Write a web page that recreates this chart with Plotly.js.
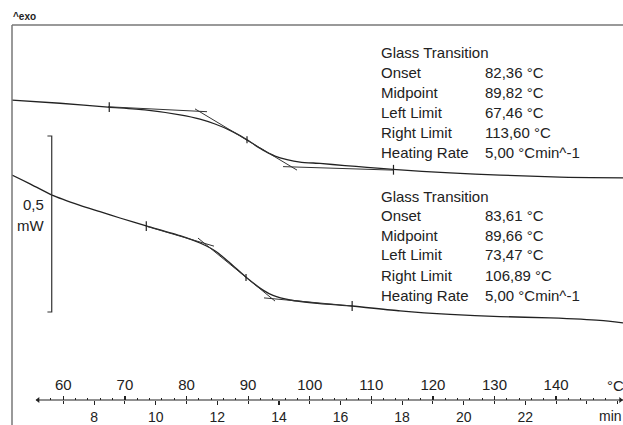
<!DOCTYPE html>
<html>
<head>
<meta charset="utf-8">
<script src="https://cdn.plot.ly/plotly-3.0.1.min.js"></script>
<style>
  html, body { margin: 0; padding: 0; background: #fff; }
  #chart { width: 623px; height: 425px; }
</style>
</head>
<body>
<div id="chart"></div>
<script>
// ---------------- data ----------------
// Curve A (upper run): temperature (°C) and heat flow (mW, relative)
const tempA = [51.67, 59.46, 67.26, 73.26, 78.94, 82.19, 84.63, 87.06, 88.69, 89.82, 91.12, 92.74, 94.37, 96.31, 98.43, 101.67, 105.73, 109.30, 113.52, 122.78, 130.89, 140.63, 150.86];
const heatA = [0.568, 0.559, 0.548, 0.540, 0.526, 0.514, 0.500, 0.482, 0.467, 0.455, 0.440, 0.423, 0.409, 0.399, 0.392, 0.388, 0.382, 0.377, 0.371, 0.361, 0.355, 0.349, 0.347];

// Curve B (lower run)
const tempB = [51.67, 54.59, 58.17, 62.71, 65.96, 69.20, 73.59, 78.94, 82.19, 84.79, 87.06, 89.82, 92.42, 94.04, 96.80, 101.67, 106.87, 114.66, 122.78, 130.89, 139.01, 147.11, 150.86];
const heatB = [0.355, 0.330, 0.298, 0.269, 0.251, 0.233, 0.210, 0.183, 0.162, 0.138, 0.105, 0.0625, 0.028, 0.013, 0.000, -0.010, -0.017, -0.031, -0.041, -0.047, -0.051, -0.058, -0.065];

// Glass transition evaluation constructions (tangent lines)
const baseLeftA_T = [67.26, 83.33],  baseLeftA_H = [0.549, 0.535];
const tangentA_T  = [81.38, 97.94],  tangentA_H  = [0.543, 0.369];
const baseRightA_T = [95.67, 113.52], baseRightA_H = [0.379, 0.369];

const baseLeftB_T = [73.59, 84.46],  baseLeftB_H = [0.209, 0.153];
const tangentB_T  = [81.86, 94.37],  tangentB_H  = [0.176, -0.003];
const baseRightB_T = [92.58, 106.87], baseRightB_H = [0.006, -0.017];

// Limit / midpoint marks
const limitsA_T = [67.46, 113.60], limitsA_H = [0.548, 0.370];
const midA_T = [89.82], midA_H = [0.455];
const limitsB_T = [73.47, 106.89], limitsB_H = [0.210, -0.017];
const midB_T = [89.66], midB_H = [0.064];

// Evaluation results
const resultLabels = ["Onset", "Midpoint", "Left Limit", "Right Limit", "Heating Rate"];
const resultsA = ["82,36 °C", "89,82 °C", "67,46 °C", "113,60 °C", "5,00 °Cmin^-1"];
const resultsB = ["83,61 °C", "89,66 °C", "73,47 °C", "106,89 °C", "5,00 °Cmin^-1"];

// Scale bar (0,5 mW)
const scaleBarT = 58.12, scaleBarTop = 0.466, scaleBarSpan = 0.5;

// Axes
const tempTicks = [60, 70, 80, 90, 100, 110, 120, 130, 140];
const tempMinor = [56, 58, 62, 64, 66, 68, 72, 74, 76, 78, 82, 84, 86, 88, 92, 94, 96, 98, 102, 104, 106, 108, 112, 114, 116, 118, 122, 124, 126, 128, 132, 134, 136, 138, 142, 144, 146, 148];
const minTicks = [8, 10, 12, 14, 16, 18, 20, 22];
const minMinor = [7, 9, 11, 13, 15, 17, 19, 21, 23, 24, 25];
const T0 = 25, heatingRate = 5;           // T = T0 + rate * t
const tempRange = [51.67, 150.86];
const heatRange = [-0.3551, 0.7813];
const axisStartT = 55.6;

// ---------------- drawing ----------------
const FONT = "Liberation Sans, Arial, Helvetica, sans-serif";
const INK = "#222";
const thinLine = {color: "#333", width: 1};

function lineTrace(x, y, line) {
  return {x: x, y: y, type: "scatter", mode: "lines", line: line, hoverinfo: "skip", showlegend: false, xaxis: "x", yaxis: "y"};
}
function markTrace(x, y, size) {
  return {x: x, y: y, type: "scatter", mode: "markers", hoverinfo: "skip", showlegend: false,
          marker: {symbol: "line-ns", size: size, line: {color: INK, width: 1.2}}};
}

const traces = [
  lineTrace(tempA, heatA, {color: INK, width: 1.3, shape: "spline", smoothing: 0.6}),
  lineTrace(tempB, heatB, {color: INK, width: 1.3, shape: "spline", smoothing: 0.6}),
  lineTrace(baseLeftA_T, baseLeftA_H, thinLine),
  lineTrace(tangentA_T, tangentA_H, thinLine),
  lineTrace(baseRightA_T, baseRightA_H, thinLine),
  lineTrace(baseLeftB_T, baseLeftB_H, thinLine),
  lineTrace(tangentB_T, tangentB_H, thinLine),
  lineTrace(baseRightB_T, baseRightB_H, thinLine),
  markTrace(limitsA_T, limitsA_H, 7),
  markTrace(midA_T, midA_H, 5),
  markTrace(limitsB_T, limitsB_H, 7),
  markTrace(midB_T, midB_H, 5),
  // scale bar
  lineTrace([scaleBarT - 0.7, scaleBarT, scaleBarT, scaleBarT - 0.7],
            [scaleBarTop, scaleBarTop, scaleBarTop - scaleBarSpan, scaleBarTop - scaleBarSpan],
            {color: "#333", width: 1.2}),
  // axis end marks (small arrow heads)
  {x: [axisStartT + 0.3], y: [0], xaxis: "x", yaxis: "y3", type: "scatter", mode: "markers", hoverinfo: "skip",
   showlegend: false, marker: {symbol: "triangle-left", size: 5, color: INK}},
  {x: [tempRange[1] - 0.4], y: [0], xaxis: "x", yaxis: "y3", type: "scatter", mode: "markers", hoverinfo: "skip",
   showlegend: false, marker: {symbol: "triangle-right", size: 5, color: INK}},
  // invisible trace to carry the minutes axis
  {x: minTicks, y: minTicks.map(() => null), xaxis: "x2", yaxis: "y", type: "scatter", mode: "lines",
   hoverinfo: "skip", showlegend: false}
];

const axisPos = 0.0625;
const tickFont = {family: FONT, size: 15, color: INK};

const annotations = [];
function rowAnn(xT, pixY, text) {
  annotations.push({x: xT, xref: "x", y: (425 - pixY) / 400, yref: "paper", text: text, showarrow: false,
                    xanchor: "left", yanchor: "middle", font: {family: FONT, size: 15, color: INK}});
}
const labelT = 111.3, valueT = 128.2;
const rowsA = [53, 72, 92, 112, 132, 152];
const rowsB = [196, 215, 235, 255, 275, 295];
rowAnn(labelT, rowsA[0], "Glass Transition");
rowAnn(labelT, rowsB[0], "Glass Transition");
resultLabels.forEach((lab, i) => {
  rowAnn(labelT, rowsA[i + 1], lab);
  rowAnn(valueT, rowsA[i + 1], resultsA[i]);
  rowAnn(labelT, rowsB[i + 1], lab);
  rowAnn(valueT, rowsB[i + 1], resultsB[i]);
});
// scale bar label
annotations.push({x: 57.2, xref: "x", y: (425 - 205) / 400, yref: "paper", text: "0,5", showarrow: false,
                  xanchor: "right", yanchor: "middle", font: {family: FONT, size: 15, color: INK}});
annotations.push({x: 57.2, xref: "x", y: (425 - 225) / 400, yref: "paper", text: "mW", showarrow: false,
                  xanchor: "right", yanchor: "middle", font: {family: FONT, size: 15, color: INK}});
// units
annotations.push({x: 149.6, xref: "x", y: (425 - 385) / 400, yref: "paper", text: "°C", showarrow: false,
                  xanchor: "center", yanchor: "middle", font: {family: FONT, size: 15, color: INK}});
annotations.push({x: 148.8, xref: "x", y: (425 - 416) / 400, yref: "paper", text: "min", showarrow: false,
                  xanchor: "center", yanchor: "middle", font: {family: FONT, size: 14, color: INK}});
// exo marker
annotations.push({x: -0.002, xref: "paper", y: 1, yref: "paper", text: "<b>^exo</b>", showarrow: false,
                  xanchor: "left", yanchor: "bottom", yshift: 1, font: {family: FONT, size: 10, color: INK}});

const layout = {
  width: 623, height: 425,
  margin: {l: 12, r: 0, t: 25, b: 0, pad: 0},
  paper_bgcolor: "#fff", plot_bgcolor: "#fff",
  showlegend: false,
  xaxis: {
    range: tempRange, anchor: "free", position: axisPos, side: "top",
    showline: false, showgrid: false, zeroline: false,
    tickmode: "array", tickvals: tempTicks, ticktext: tempTicks.map(String),
    ticks: "outside", ticklen: 4, tickwidth: 1.2, tickcolor: INK,
    minor: {tickmode: "array", tickvals: tempMinor, ticks: "outside", ticklen: 2, tickwidth: 1, tickcolor: INK},
    tickfont: tickFont, fixedrange: true
  },
  xaxis2: {
    overlaying: "x", range: tempRange.map(T => (T - T0) / heatingRate),
    anchor: "free", position: axisPos, side: "bottom",
    showline: false, showgrid: false, zeroline: false,
    tickmode: "array", tickvals: minTicks, ticktext: minTicks.map(String),
    ticks: "outside", ticklen: 4, tickwidth: 1.2, tickcolor: INK,
    minor: {tickmode: "array", tickvals: minMinor, ticks: "outside", ticklen: 3, tickwidth: 1, tickcolor: INK},
    tickfont: {family: FONT, size: 14, color: INK}, fixedrange: true
  },
  yaxis: {range: heatRange, showgrid: false, zeroline: false, showticklabels: false, ticks: "",
          showline: false, fixedrange: true},
  yaxis3: {overlaying: "y", range: [-axisPos, 1 - axisPos], visible: false, fixedrange: true},
  shapes: [
    {type: "line", xref: "paper", yref: "paper", x0: 0, x1: 1, y0: 1, y1: 1, line: {color: "#999", width: 2}},
    {type: "line", xref: "paper", yref: "paper", x0: 0, x1: 0, y0: 0, y1: 1, line: {color: "#777", width: 1.5}},
    {type: "line", xref: "x", yref: "paper", x0: axisStartT, x1: tempRange[1], y0: axisPos, y1: axisPos,
     line: {color: INK, width: 1.2}}
  ],
  annotations: annotations
};

Plotly.newPlot("chart", traces, layout, {displayModeBar: false, staticPlot: true});
</script>
</body>
</html>
